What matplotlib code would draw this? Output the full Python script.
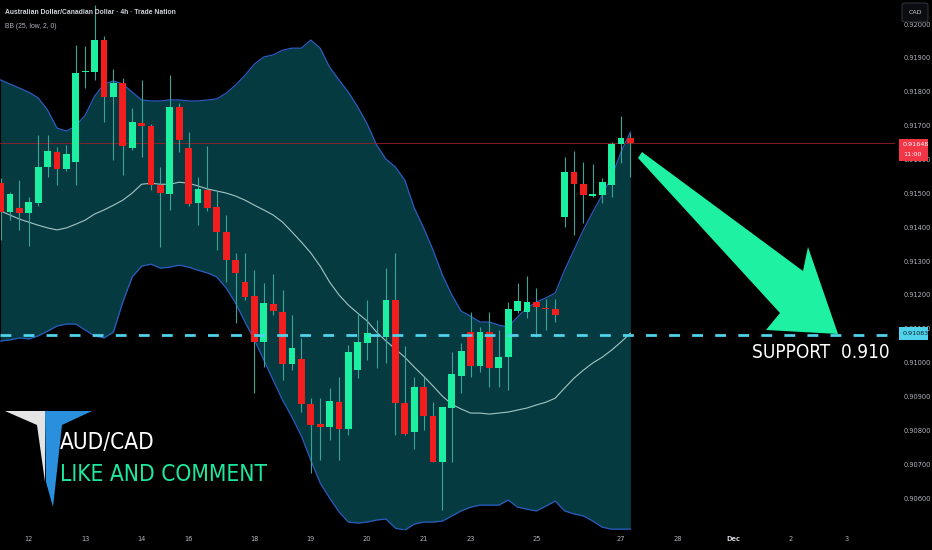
import matplotlib
matplotlib.use("Agg")
import matplotlib.pyplot as plt
from matplotlib.patches import Polygon, Rectangle, FancyBboxPatch
from matplotlib import font_manager as fm
import numpy as np

# ---------------- data ----------------
opens = [0.91530, 0.91445, 0.91457, 0.91442, 0.91471, 0.91578, 0.91622, 0.91572, 0.91592, 0.91858,
         0.91858, 0.91953, 0.91784, 0.91826, 0.91634, 0.91708, 0.91699, 0.91524, 0.91498, 0.91755,
         0.91634, 0.91471, 0.91510, 0.91459, 0.91386, 0.91303, 0.91238, 0.91197, 0.91061, 0.91173,
         0.91149, 0.90996, 0.91011, 0.90877, 0.90818, 0.90809, 0.90883, 0.90803, 0.90978, 0.91058,
         0.91081, 0.91076, 0.91185, 0.90880, 0.90795, 0.90928, 0.90842, 0.90706, 0.90866, 0.90960,
         0.91090, 0.90990, 0.91090, 0.90984, 0.91016, 0.91152, 0.91149, 0.91179, 0.91161, 0.91158,
         0.91430, 0.91563, 0.91527, 0.91492, 0.91495, 0.91524, 0.91646, 0.91663]
highs = [0.91545, 0.91504, 0.91539, 0.91489, 0.91672, 0.91672, 0.91637, 0.91643, 0.91938, 0.91935,
         0.92056, 0.91965, 0.91867, 0.91841, 0.91752, 0.91835, 0.91705, 0.91578, 0.91849, 0.91767,
         0.91681, 0.91548, 0.91640, 0.91510, 0.91436, 0.91324, 0.91324, 0.91273, 0.91235, 0.91262,
         0.91214, 0.91140, 0.91073, 0.90895, 0.90895, 0.90925, 0.90957, 0.91052, 0.91146, 0.91185,
         0.91126, 0.91279, 0.91324, 0.91049, 0.90957, 0.90957, 0.90883, 0.90868, 0.91031, 0.91058,
         0.91149, 0.91105, 0.91149, 0.91096, 0.91179, 0.91235, 0.91256, 0.91220, 0.91188, 0.91188,
         0.91607, 0.91625, 0.91592, 0.91586, 0.91545, 0.91651, 0.91728, 0.91678]
lows = [0.91362, 0.91421, 0.91392, 0.91344, 0.91462, 0.91548, 0.91524, 0.91566, 0.91524, 0.91811,
        0.91835, 0.91711, 0.91598, 0.91554, 0.91628, 0.91607, 0.91510, 0.91341, 0.91451, 0.91622,
        0.91462, 0.91406, 0.91448, 0.91333, 0.91238, 0.91117, 0.91185, 0.90910, 0.90987, 0.91140,
        0.90948, 0.90978, 0.90854, 0.90674, 0.90712, 0.90771, 0.90712, 0.90786, 0.90954, 0.91008,
        0.90984, 0.90999, 0.90786, 0.90786, 0.90745, 0.90801, 0.90706, 0.90564, 0.90706, 0.90910,
        0.90957, 0.90972, 0.90928, 0.90928, 0.90919, 0.91146, 0.91132, 0.91076, 0.91096, 0.91120,
        0.91400, 0.91377, 0.91412, 0.91489, 0.91471, 0.91489, 0.91589, 0.91548]
closes = [0.91445, 0.91498, 0.91442, 0.91474, 0.91578, 0.91625, 0.91572, 0.91616, 0.91855, 0.91861,
          0.91953, 0.91784, 0.91826, 0.91640, 0.91711, 0.91699, 0.91524, 0.91501, 0.91755, 0.91657,
          0.91468, 0.91513, 0.91457, 0.91386, 0.91303, 0.91265, 0.91194, 0.91061, 0.91176, 0.91152,
          0.90996, 0.91043, 0.90877, 0.90815, 0.90809, 0.90886, 0.90803, 0.91031, 0.91061, 0.91087,
          0.91076, 0.91185, 0.90880, 0.90789, 0.90928, 0.90842, 0.90706, 0.90868, 0.90966, 0.91034,
          0.90990, 0.91090, 0.90984, 0.91016, 0.91158, 0.91182, 0.91179, 0.91164, 0.91158, 0.91140,
          0.91563, 0.91527, 0.91495, 0.91498, 0.91533, 0.91646, 0.91663, 0.91648]

bb_upper = [0.91835, 0.91823, 0.91811, 0.91799, 0.91782, 0.91746, 0.91693, 0.91684, 0.91699, 0.91731,
            0.91787, 0.91823, 0.91832, 0.91823, 0.91799, 0.91776, 0.91773, 0.91773, 0.91776, 0.91776,
            0.91773, 0.91773, 0.91776, 0.91779, 0.91796, 0.91820, 0.91849, 0.91882, 0.91903, 0.91909,
            0.91923, 0.91929, 0.91929, 0.91953, 0.91929, 0.91873, 0.91835, 0.91799, 0.91755, 0.91705,
            0.91643, 0.91601, 0.91578, 0.91539, 0.91457, 0.91398, 0.91333, 0.91259, 0.91200, 0.91152,
            0.91137, 0.91120, 0.91120, 0.91111, 0.91105, 0.91135, 0.91161, 0.91179, 0.91191, 0.91206,
            0.91273, 0.91333, 0.91392, 0.91445, 0.91495, 0.91548, 0.91622, 0.91681]
bb_mid = [0.91448, 0.91436, 0.91424, 0.91415, 0.91406, 0.91398, 0.91392, 0.91398, 0.91409, 0.91421,
          0.91439, 0.91451, 0.91465, 0.91480, 0.91501, 0.91527, 0.91530, 0.91527, 0.91527, 0.91533,
          0.91530, 0.91522, 0.91513, 0.91507, 0.91501, 0.91492, 0.91480, 0.91465, 0.91451, 0.91436,
          0.91415, 0.91386, 0.91356, 0.91324, 0.91285, 0.91238, 0.91200, 0.91170, 0.91146, 0.91123,
          0.91090, 0.91064, 0.91040, 0.91016, 0.90987, 0.90960, 0.90931, 0.90901, 0.90877, 0.90863,
          0.90851, 0.90851, 0.90848, 0.90851, 0.90854, 0.90860, 0.90866, 0.90875, 0.90883, 0.90895,
          0.90925, 0.90954, 0.90978, 0.90999, 0.91016, 0.91037, 0.91061, 0.91087]
bb_lower = [0.91064, 0.91067, 0.91073, 0.91070, 0.91079, 0.91093, 0.91108, 0.91114, 0.91114, 0.91096,
            0.91079, 0.91073, 0.91090, 0.91179, 0.91253, 0.91285, 0.91291, 0.91279, 0.91282, 0.91288,
            0.91282, 0.91273, 0.91265, 0.91253, 0.91220, 0.91176, 0.91120, 0.91067, 0.91008, 0.90948,
            0.90889, 0.90839, 0.90783, 0.90712, 0.90644, 0.90600, 0.90559, 0.90529, 0.90526, 0.90529,
            0.90535, 0.90538, 0.90511, 0.90505, 0.90523, 0.90529, 0.90529, 0.90532, 0.90547, 0.90562,
            0.90573, 0.90579, 0.90579, 0.90579, 0.90594, 0.90573, 0.90567, 0.90562, 0.90576, 0.90591,
            0.90562, 0.90553, 0.90547, 0.90532, 0.90514, 0.90508, 0.90508, 0.90508]

date_ticks = [3, 9, 15, 20, 27, 33, 39, 45, 50, 57, 66, 72, 78, 84, 90]
date_labels = ["12", "13", "14", "16", "18", "19", "20", "21", "23", "25", "27", "28", "Dec", "2", "3"]
price_ticks = [0.906, 0.907, 0.908, 0.909, 0.910, 0.911, 0.912, 0.913, 0.914, 0.915,
               0.916, 0.917, 0.918, 0.919, 0.920]

last_price = 0.91648
last_countdown = "11:00"
support_level = 0.91083
support_text = "SUPPORT  0.910"
title_text = "Australian Dollar/Canadian Dollar · 4h · Trade Nation"
indicator_text = "BB (25, low, 2, 0)"
currency_text = "CAD"
pair_text = "AUD/CAD"
cta_text = "LIKE AND COMMENT"

# ---------------- layout / style ----------------
W, H = 932, 550
BG = "#000000"
UP = "#1cefa0"
DOWN = "#f21d1d"
WICK = "#3aa596"
FILL = "#063a41"
BAND = "#2b5cbf"
MID = "#a3c6c4"
CYAN = "#4fd2ea"
AXTXT = "#b2b5be"

YTOP = 0.920713
PX_PER_UNIT = 33850.0
AX_H_PX = 530
AX_W_PX = 895
YBOT = YTOP - AX_H_PX / PX_PER_UNIT
BAR_PX = 9.4
X0_PX = 0.6


def pick_narrow():
    cands = [("Liberation Sans Narrow", "normal"), ("DejaVu Sans", "condensed"),
             ("Open Sans", "condensed"), ("Roboto", "condensed"), ("Noto Sans", "condensed")]
    for fam, st in cands:
        try:
            p = fm.findfont(fm.FontProperties(family=fam, stretch=st), fallback_to_default=False)
        except Exception:
            continue
        if "narrow" in p.lower() or "condensed" in p.lower():
            return fam, st
    return "DejaVu Sans", "normal"


NFAM, NSTRETCH = pick_narrow()


def fx(px):
    return px / W


def fy(py):
    return 1 - py / H


def fig_poly(pts, **kw):
    return Polygon([(fx(x), fy(y)) for x, y in pts], closed=True,
                   transform=fig.transFigure, **kw)


fig = plt.figure(figsize=(W / 100, H / 100), dpi=100, facecolor=BG)
renderer = fig.canvas.get_renderer()


def fit_width(t, target_px):
    w = t.get_window_extent(renderer).width
    if w > 0:
        t.set_fontsize(t.get_fontsize() * target_px / w)


ax = fig.add_axes([0, (H - AX_H_PX) / H, AX_W_PX / W, AX_H_PX / H])
ax.set_facecolor(BG)
for s in ax.spines.values():
    s.set_visible(False)

idx = np.arange(len(closes))
ax.set_xlim(-X0_PX / BAR_PX, (AX_W_PX - X0_PX) / BAR_PX)
ax.set_ylim(YBOT, YTOP)

# Bollinger band
ax.fill_between(idx, bb_lower, bb_upper, color=FILL, lw=0, zorder=1)
ax.plot(idx, bb_upper, color=BAND, lw=0.9, zorder=1.2)
ax.plot(idx, bb_lower, color=BAND, lw=0.9, zorder=1.2)
ax.plot(idx, bb_mid, color=MID, lw=0.8, zorder=1.3)

# last price line
ax.axhline(last_price, color="#9a1f27", lw=0.6, zorder=1.5)

# candles
o = np.array(opens); c = np.array(closes)
h = np.array(highs); l = np.array(lows)
up = c >= o
colors = np.where(up, UP, DOWN)
ax.vlines(idx, l, h, color=WICK, lw=0.8, zorder=2)
bottoms = np.minimum(o, c)
heights = np.maximum(np.abs(c - o), 1.2 / PX_PER_UNIT)
ax.bar(idx, heights, bottom=bottoms, width=0.71, color=colors, lw=0, zorder=3)

# support line
ax.axhline(support_level, color=CYAN, lw=2.0, dashes=(3.9, 4.4), zorder=4)
st = ax.text((890 - X0_PX) / BAR_PX, YTOP - 353 / PX_PER_UNIT, support_text,
             ha="right", va="center", color="white", fontsize=16, family=NFAM,
             fontstretch=NSTRETCH, zorder=6)
fit_width(st, 138)

# axes ticks
ax.yaxis.tick_right()
ax.set_yticks(price_ticks)
ax.set_yticklabels([f"{v:.5f}" for v in price_ticks])
ax.tick_params(axis="y", length=0, pad=6.5, labelsize=4.8, labelcolor=AXTXT)
ax.set_xticks(date_ticks)
ax.set_xticklabels(date_labels)
ax.tick_params(axis="x", length=0, pad=4.5, labelsize=4.8, labelcolor=AXTXT)
for t in ax.get_xticklabels():
    if t.get_text() == "Dec":
        t.set_fontweight("bold")
        t.set_color("#d1d4dc")

# arrow
arrow_pts = [(638, 158), (642, 152), (803, 271), (808, 247), (838, 334), (766, 330), (780, 313)]
fig.patches.append(fig_poly(arrow_pts, facecolor="#1ef2a2", edgecolor="none", zorder=5))

# price labels on the right
fig.patches.append(Rectangle((fx(899), fy(161)), 29 / W, 22 / H, transform=fig.transFigure,
                             facecolor="#f23645", edgecolor="none", zorder=5))
fig.text(fx(903), fy(145), f"{last_price:.5f}", color="white", fontsize=4.6, va="center", ha="left", zorder=6)
fig.text(fx(903), fy(155), last_countdown, color="white", fontsize=4.6, va="center", ha="left", zorder=6)
fig.patches.append(Rectangle((fx(899), fy(340)), 29 / W, 13 / H, transform=fig.transFigure,
                             facecolor=CYAN, edgecolor="none", zorder=5))
fig.text(fx(902.5), fy(333.5), f"{support_level:.5f}", color="#10202a", fontsize=4.6,
         va="center", ha="left", zorder=6)

# currency box
fig.patches.append(FancyBboxPatch((fx(902), fy(22)), 26 / W, 19 / H, transform=fig.transFigure,
                                  boxstyle="round,pad=0,rounding_size=0.004",
                                  facecolor="#0c0d10", edgecolor="#3b3f4a", lw=0.6, zorder=5))
fig.text(fx(915), fy(12.5), currency_text, color="#d1d4dc", fontsize=4.5, ha="center", va="center", zorder=6)

# header legend
fig.text(fx(5), fy(12.5), title_text, color="#d1d4dc", fontsize=4.9, fontweight="bold",
         family=["Liberation Sans", "DejaVu Sans"], ha="left", va="center")
fig.text(fx(5), fy(26), indicator_text, color=AXTXT, fontsize=4.9,
         family=["Liberation Sans", "DejaVu Sans"], ha="left", va="center")

# logo
fig.patches.append(fig_poly([(5, 411), (45, 411), (45, 482), (37, 425)],
                            facecolor="#e4e4e4", edgecolor="none", zorder=5))
fig.patches.append(fig_poly([(45, 411), (92, 411), (62, 425), (53, 507), (46, 482)],
                            facecolor="#2a8fdc", edgecolor="none", zorder=5))
t1 = fig.text(fx(60), fy(449), pair_text, color="white", fontsize=18, family=NFAM,
              fontstretch=NSTRETCH, ha="left", va="baseline", zorder=6)
fit_width(t1, 95)
t2 = fig.text(fx(60), fy(481), cta_text, color="#1ee8a0", fontsize=18, family=NFAM,
              fontstretch=NSTRETCH, ha="left", va="baseline", zorder=6)
fit_width(t2, 208)

fig.savefig("out.png", dpi=100, facecolor=BG)
